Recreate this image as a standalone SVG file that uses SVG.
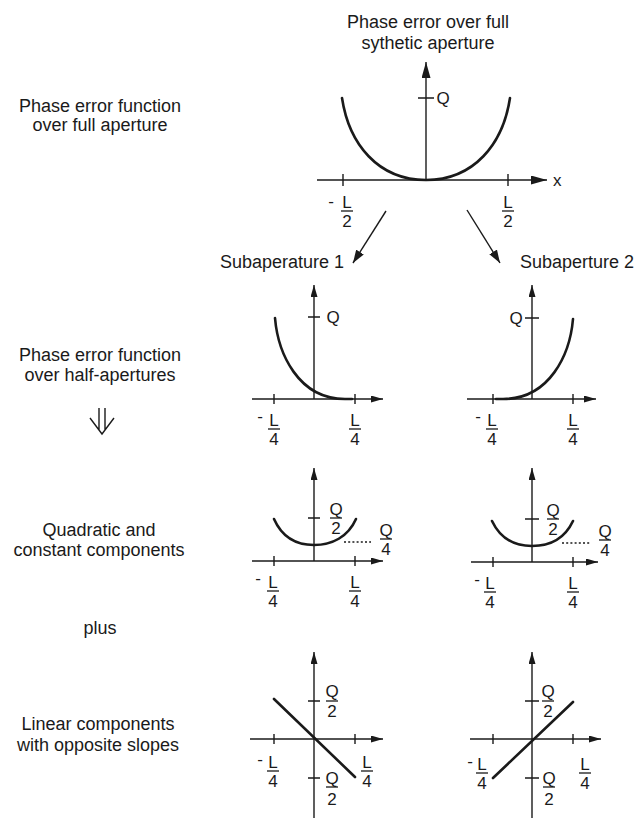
<svg xmlns="http://www.w3.org/2000/svg" width="641" height="819" viewBox="0 0 641 819">
<defs>
<style>
text{font-family:"Liberation Sans",Arial,Helvetica,sans-serif;fill:#1a1a1a}
.lbl{font-size:18px;text-anchor:middle}
.sub{font-size:18px}
.m{font-size:17px;text-anchor:middle}
.ax{stroke:#1a1a1a;stroke-width:1.4;fill:none}
.tk{stroke:#1a1a1a;stroke-width:1.4;fill:none}
.cv{stroke:#1a1a1a;stroke-width:2.6;fill:none;stroke-linecap:round}
.bar{stroke:#1a1a1a;stroke-width:1.3}
.dot{stroke:#1a1a1a;stroke-width:1.6;stroke-dasharray:2 2.2;fill:none}
.cn{stroke:#1a1a1a;stroke-width:1.4;fill:none}
</style>
<marker id="ahB" markerUnits="userSpaceOnUse" markerWidth="16" markerHeight="9" refX="16" refY="4.5" orient="auto"><path d="M0,0 L16,4.5 L0,9 z" fill="#1a1a1a"/></marker>
<marker id="ahS" markerUnits="userSpaceOnUse" markerWidth="12" markerHeight="7" refX="12" refY="3.5" orient="auto"><path d="M0,0 L12,3.5 L0,7 z" fill="#1a1a1a"/></marker>
<marker id="ahC" markerUnits="userSpaceOnUse" markerWidth="13" markerHeight="9" refX="13" refY="4.5" orient="auto"><path d="M0,0 L13,4.5 L0,9 z" fill="#1a1a1a"/></marker>
</defs>
<rect width="641" height="819" fill="#ffffff"/>

<g id="row-labels">
<text class="lbl" x="100" y="112">Phase error function</text>
<text class="lbl" x="100" y="131">over full aperture</text>
<text class="lbl" x="100" y="361">Phase error function</text>
<text class="lbl" x="100" y="381">over half-apertures</text>
<text class="lbl" x="99" y="536">Quadratic and</text>
<text class="lbl" x="99" y="556">constant components</text>
<text class="lbl" x="100" y="634">plus</text>
<text class="lbl" x="98" y="730">Linear components</text>
<text class="lbl" x="98" y="751">with opposite slopes</text>
</g>

<g id="plot-full">
<text class="lbl" x="428" y="28">Phase error over full</text>
<text class="lbl" x="428" y="49">sythetic aperture</text>
<line class="ax" x1="426" y1="180" x2="426" y2="62" marker-end="url(#ahB)"/>
<line class="ax" x1="317" y1="180" x2="547" y2="180" marker-end="url(#ahB)"/>
<path class="tk" d="M343,174 V186 M508,174 V186 M418,98 H434"/>
<path class="cv" d="M342,98 C349,144 378,180 426,180 C474,180 503,144 510,98"/>
<text class="m" x="443" y="104">Q</text>
<text x="553" y="186" style="font-size:17px">x</text>
<text class="m" x="331" y="207">-</text>
<text class="m" x="347" y="208">L</text>
<line class="bar" x1="341" y1="211" x2="353" y2="211"/>
<text class="m" x="347" y="227">2</text>
<text class="m" x="508" y="208">L</text>
<line class="bar" x1="502" y1="211" x2="514" y2="211"/>
<text class="m" x="508" y="227">2</text>
</g>

<g id="plot-sub1">
<text class="sub" x="220" y="268">Subaperature 1</text>
<line class="ax" x1="314" y1="399" x2="314" y2="285" marker-end="url(#ahS)"/>
<line class="ax" x1="252" y1="399" x2="383" y2="399" marker-end="url(#ahS)"/>
<path class="tk" d="M274,394 V404 M355,394 V404 M308,317 H320"/>
<path class="cv" d="M275,318 C278,353 298,399 345,399 L352,399"/>
<text class="m" x="333" y="323">Q</text>
<text class="m" x="260" y="422">-</text>
<text class="m" x="274" y="426">L</text>
<line class="bar" x1="268" y1="429" x2="280" y2="429"/>
<text class="m" x="274" y="445">4</text>
<text class="m" x="355" y="426">L</text>
<line class="bar" x1="349" y1="429" x2="361" y2="429"/>
<text class="m" x="355" y="445">4</text>
</g>

<g id="plot-sub2">
<text class="sub" x="520" y="268">Subaperture 2</text>
<line class="ax" x1="532" y1="399" x2="532" y2="285" marker-end="url(#ahS)"/>
<line class="ax" x1="467" y1="399" x2="596" y2="399" marker-end="url(#ahS)"/>
<path class="tk" d="M493,394 V404 M573,394 V404 M525,318 H539"/>
<path class="cv" d="M496,399 L503,399 C550,399 570,354 573,319"/>
<text class="m" x="516" y="324">Q</text>
<text class="m" x="478" y="422">-</text>
<text class="m" x="492" y="426">L</text>
<line class="bar" x1="486" y1="429" x2="498" y2="429"/>
<text class="m" x="492" y="445">4</text>
<text class="m" x="573" y="426">L</text>
<line class="bar" x1="567" y1="429" x2="579" y2="429"/>
<text class="m" x="573" y="445">4</text>
</g>

<g id="plot-quad1">
<line class="ax" x1="314" y1="561" x2="314" y2="468" marker-end="url(#ahS)"/>
<line class="ax" x1="252" y1="561" x2="383" y2="561" marker-end="url(#ahS)"/>
<path class="tk" d="M274,556 V566 M355,556 V566 M308,518 H320"/>
<path class="cv" d="M274,519 C282,537 296,545 314,545 C332,545 348,537 356,519"/>
<path class="dot" d="M344,542 H371"/>
<text class="m" x="336" y="515">Q</text>
<line class="bar" x1="330" y1="518" x2="342" y2="518"/>
<text class="m" x="336" y="534">2</text>
<text class="m" x="386" y="536">Q</text>
<line class="bar" x1="380" y1="539" x2="392" y2="539"/>
<text class="m" x="386" y="555">4</text>
<text class="m" x="258" y="584">-</text>
<text class="m" x="273" y="588">L</text>
<line class="bar" x1="267" y1="591" x2="279" y2="591"/>
<text class="m" x="273" y="607">4</text>
<text class="m" x="355" y="588">L</text>
<line class="bar" x1="349" y1="591" x2="361" y2="591"/>
<text class="m" x="355" y="607">4</text>
</g>

<g id="plot-quad2">
<line class="ax" x1="532" y1="562" x2="532" y2="468" marker-end="url(#ahS)"/>
<line class="ax" x1="471" y1="562" x2="598" y2="562" marker-end="url(#ahS)"/>
<path class="tk" d="M493,557 V567 M573,557 V567 M525,519 H539"/>
<path class="cv" d="M492,521 C500,538 514,546 532,546 C550,546 565,538 573,521"/>
<path class="dot" d="M562,543 H590"/>
<text class="m" x="553" y="516">Q</text>
<line class="bar" x1="547" y1="519" x2="559" y2="519"/>
<text class="m" x="553" y="535">2</text>
<text class="m" x="605" y="537">Q</text>
<line class="bar" x1="599" y1="540" x2="611" y2="540"/>
<text class="m" x="605" y="556">4</text>
<text class="m" x="477" y="585">-</text>
<text class="m" x="490" y="589">L</text>
<line class="bar" x1="484" y1="592" x2="496" y2="592"/>
<text class="m" x="490" y="608">4</text>
<text class="m" x="573" y="589">L</text>
<line class="bar" x1="567" y1="592" x2="579" y2="592"/>
<text class="m" x="573" y="608">4</text>
</g>

<g id="plot-lin1">
<line class="ax" x1="314" y1="818" x2="314" y2="652" marker-end="url(#ahS)"/>
<line class="ax" x1="250" y1="739" x2="383" y2="739" marker-end="url(#ahS)"/>
<path class="tk" d="M274,734 V744 M355,734 V744 M308,701 H320 M308,778 H320"/>
<path class="cv" d="M274,699 L355,777"/>
<text class="m" x="332" y="697">Q</text>
<line class="bar" x1="326" y1="701" x2="338" y2="701"/>
<text class="m" x="332" y="717">2</text>
<text class="m" x="332" y="784">Q</text>
<line class="bar" x1="326" y1="787" x2="338" y2="787"/>
<text class="m" x="332" y="805">2</text>
<text class="m" x="260" y="765">-</text>
<text class="m" x="273" y="768">L</text>
<line class="bar" x1="267" y1="771" x2="279" y2="771"/>
<text class="m" x="273" y="787">4</text>
<text class="m" x="367" y="768">L</text>
<line class="bar" x1="361" y1="771" x2="373" y2="771"/>
<text class="m" x="367" y="787">4</text>
</g>

<g id="plot-lin2">
<line class="ax" x1="532" y1="818" x2="532" y2="652" marker-end="url(#ahS)"/>
<line class="ax" x1="470" y1="739" x2="601" y2="739" marker-end="url(#ahS)"/>
<path class="tk" d="M493,734 V744 M573,734 V744 M525,701 H539 M525,778 H539"/>
<path class="cv" d="M493,778 L573,702"/>
<text class="m" x="548" y="697">Q</text>
<line class="bar" x1="542" y1="701" x2="554" y2="701"/>
<text class="m" x="548" y="717">2</text>
<text class="m" x="549" y="784">Q</text>
<line class="bar" x1="543" y1="787" x2="555" y2="787"/>
<text class="m" x="549" y="805">2</text>
<text class="m" x="470" y="767">-</text>
<text class="m" x="482" y="770">L</text>
<line class="bar" x1="476" y1="773" x2="488" y2="773"/>
<text class="m" x="482" y="789">4</text>
<text class="m" x="585" y="770">L</text>
<line class="bar" x1="579" y1="773" x2="591" y2="773"/>
<text class="m" x="585" y="789">4</text>
</g>

<g id="connectors">
<line class="cn" x1="386" y1="211" x2="353" y2="263" marker-end="url(#ahC)"/>
<line class="cn" x1="467" y1="210" x2="500" y2="263" marker-end="url(#ahC)"/>
<path class="cn" d="M99,408 V430 M105,408 V430 M90,418 L102,434 L114,418"/>
</g>
</svg>
